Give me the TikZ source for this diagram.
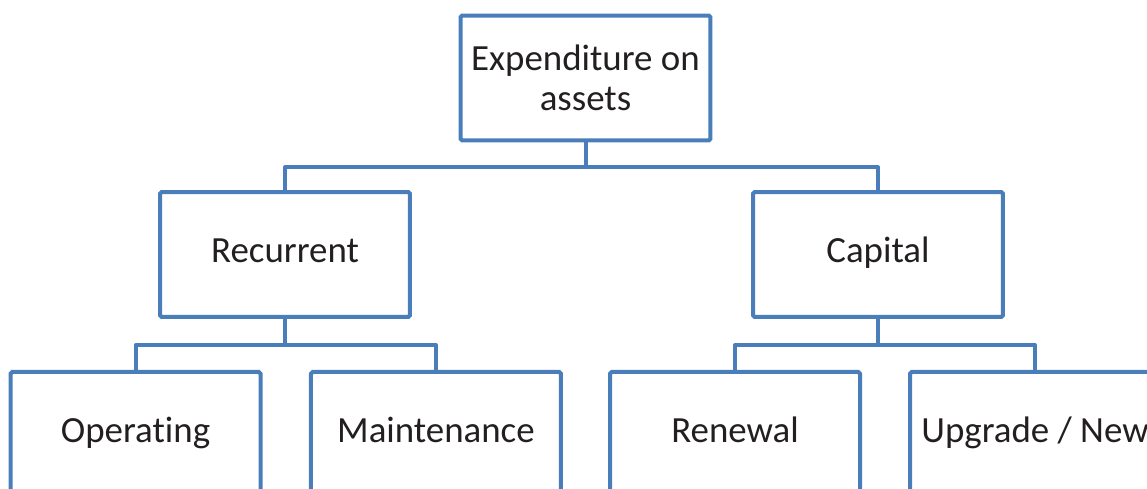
\documentclass[tikz,border=0pt]{standalone}
\usepackage{fontspec}
\setmainfont[Ligatures=NoCommon]{Carlito}
\usetikzlibrary{positioning}
\definecolor{boxblue}{HTML}{4A7EBB}
\definecolor{textdark}{HTML}{231F20}

\begin{document}
\begin{tikzpicture}[
    x=0.02cm, y=-0.02cm,
    box/.style={rectangle, draw=boxblue, line width=0.08cm, rounded corners=1pt, minimum width=5cm, minimum height=2.5cm, align=center, text=textdark, inner sep=0pt, font=\fontsize{21}{22.7}\selectfont},
    single/.style={box, text height=1.16em, text depth=0.2em},
    link/.style={draw=boxblue, line width=0.08cm, line join=round}
]
\useasboundingbox (0,0) rectangle (1147,488);
\clip (0,0) rectangle (1147,488);

% Top level
\node[box] (top) at (585.5,78) {Expenditure on\\assets};

% Second level
\node[single] (rec) at (285,254.5) {Recurrent};
\node[single] (cap) at (878,254.5) {Capital};

% Third level
\node[single, below=1.02cm of rec, xshift=-2.99cm] (oper) {Operating};
\node[single, below=1.02cm of rec, xshift=3.02cm] (maint) {Maintenance};
\node[single, below=1.02cm of cap, xshift=-2.86cm] (renew) {Renewal};
\node[single, below=1.02cm of cap, xshift=3.14cm] (upgr) {Upgrade / New};

% Connectors
\draw[link] (top.south) -- ++(0,25) -| (rec.north);
\draw[link] (top.south) -- ++(0,25) -| (cap.north);
\foreach \p/\c in {rec/oper, rec/maint, cap/renew, cap/upgr} {
    \draw[link] (\p.south) -- ++(0,26) -| (\c.north);
}

\end{tikzpicture}
\end{document}
